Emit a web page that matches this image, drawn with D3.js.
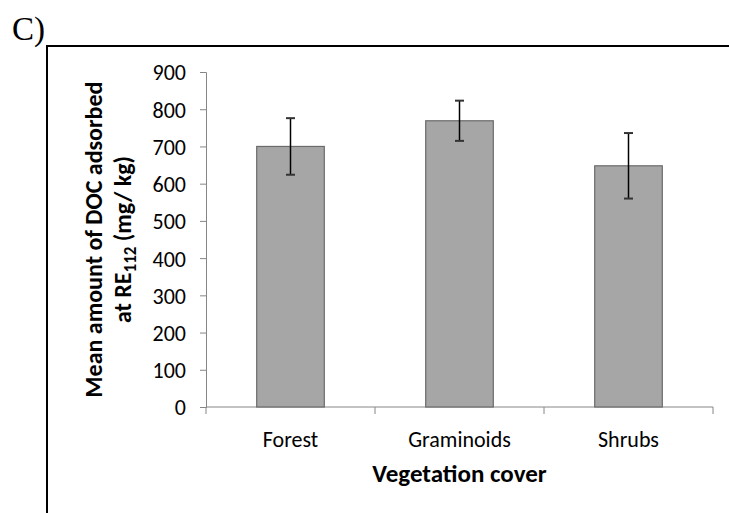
<!DOCTYPE html>
<html>
<head>
<meta charset="utf-8">
<script src="https://cdn.jsdelivr.net/npm/d3@7"></script>
<style>
  html, body { margin: 0; padding: 0; background: #fff; }
  svg { display: block; }
  text { font-family: Carlito, Calibri, Lato, sans-serif; }
</style>
</head>
<body>
<svg id="chart" width="729" height="513"></svg>
<script>
// Vegetation cover categories and mean DOC adsorbed (mg/kg) with error half-widths
const categories = ["Forest", "Graminoids", "Shrubs"];
const meanValues = [700, 769, 648];
const errorValues = [76, 54, 88];
const yTicks = [0, 100, 200, 300, 400, 500, 600, 700, 800, 900];

const svg = d3.select("#chart");
const W = 729, H = 513;
const margin = { left: 206, right: 16, top: 72, bottom: 106 };
const x0 = margin.left, x1 = W - margin.right;
const y0 = H - margin.bottom, y1 = margin.top;

// panel label and frame
svg.append("text")
  .attr("x", 12).attr("y", 40)
  .style("font-family", "'Liberation Serif', 'Times New Roman', serif")
  .style("font-size", "33px")
  .text("C)");

svg.append("path")
  .attr("d", `M47,513 V46 H729`)
  .attr("fill", "none")
  .attr("stroke", "#000")
  .attr("stroke-width", 2);

const x = d3.scaleBand().domain(categories).range([x0, x1]).paddingInner(0).paddingOuter(0);
const y = d3.scaleLinear().domain([0, 900]).range([y0, y1]);

const axisColor = "#868686";

// y axis
const yAxis = svg.append("g")
  .attr("transform", `translate(${x0},0)`)
  .call(d3.axisLeft(y).tickValues(yTicks).tickSize(6).tickPadding(14).tickFormat(d3.format("d")));
yAxis.select(".domain").attr("stroke", axisColor);
yAxis.selectAll(".tick line").attr("stroke", axisColor);
yAxis.selectAll(".tick text")
  .attr("fill", "#000")
  .style("font-size", "22px")
  .attr("dy", "0.36em");

// x axis: ticks at category boundaries
const xAxisG = svg.append("g").attr("transform", `translate(0,${y0})`);
xAxisG.append("line")
  .attr("x1", x0).attr("x2", x1)
  .attr("stroke", axisColor);
const boundaries = categories.map(c => x(c)).concat([x1]);
xAxisG.selectAll("line.tick")
  .data(boundaries)
  .join("line")
  .attr("class", "tick")
  .attr("x1", d => d).attr("x2", d => d)
  .attr("y1", 0).attr("y2", 7)
  .attr("stroke", axisColor);
xAxisG.selectAll("text.cat")
  .data(categories)
  .join("text")
  .attr("class", "cat")
  .attr("x", d => x(d) + x.bandwidth() / 2)
  .attr("y", 40)
  .attr("text-anchor", "middle")
  .style("font-size", "22px")
  .text(d => d);

// bars
const barW = x.bandwidth() * 0.4;
const rows = categories.map((c, i) => ({ c, v: meanValues[i], e: errorValues[i] }));
svg.append("g").selectAll("rect")
  .data(rows)
  .join("rect")
  .attr("x", d => x(d.c) + (x.bandwidth() - barW) / 2)
  .attr("y", d => y(d.v))
  .attr("width", barW)
  .attr("height", d => y(0) - y(d.v))
  .attr("fill", "#A6A6A6")
  .attr("stroke", "#6B6B6B")
  .attr("stroke-width", 1.2);

// error bars
const eb = svg.append("g").selectAll("g")
  .data(rows)
  .join("g");
eb.append("line")
  .attr("x1", d => x(d.c) + x.bandwidth() / 2)
  .attr("x2", d => x(d.c) + x.bandwidth() / 2)
  .attr("y1", d => y(d.v + d.e))
  .attr("y2", d => y(d.v - d.e))
  .attr("stroke", "#000")
  .attr("stroke-width", 1.5);
[1, -1].forEach(s => {
  eb.append("line")
    .attr("x1", d => x(d.c) + x.bandwidth() / 2 - 4.5)
    .attr("x2", d => x(d.c) + x.bandwidth() / 2 + 4.5)
    .attr("y1", d => y(d.v + s * d.e))
    .attr("y2", d => y(d.v + s * d.e))
    .attr("stroke", "#333")
    .attr("stroke-width", 2);
});

// axis titles
svg.append("text")
  .attr("x", (x0 + x1) / 2)
  .attr("y", 482)
  .attr("text-anchor", "middle")
  .style("font-size", "25px")
  .style("font-weight", "bold")
  .text("Vegetation cover");

const yTitle = svg.append("text")
  .attr("transform", `translate(102,${(y0 + y1) / 2}) rotate(-90)`)
  .attr("text-anchor", "middle")
  .style("font-size", "24px")
  .style("font-weight", "bold");
yTitle.append("tspan")
  .attr("x", 0).attr("y", 0)
  .text("Mean amount of DOC adsorbed");
const line2 = yTitle.append("tspan").attr("x", 0).attr("y", 29);
line2.append("tspan").text("at RE");
line2.append("tspan").attr("dy", 5).style("font-size", "17px").text("112");
line2.append("tspan").attr("dy", -5).text(" (mg/ kg)");
</script>
</body>
</html>
